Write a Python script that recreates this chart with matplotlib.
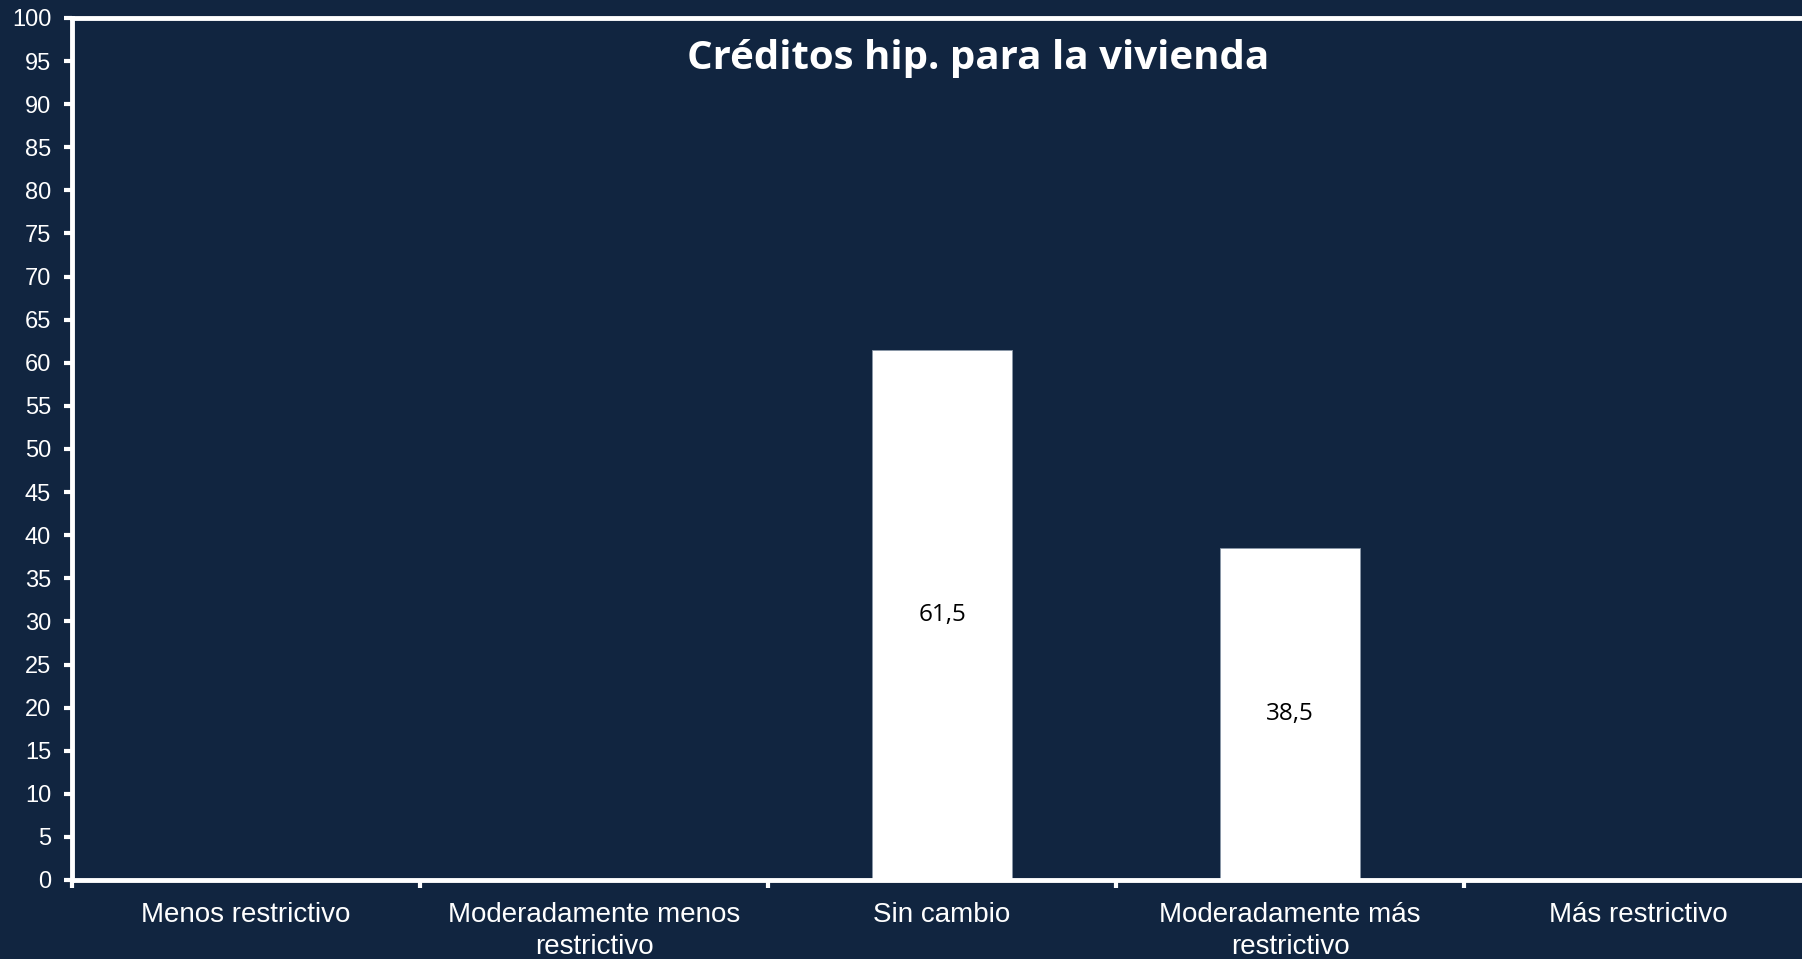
import numpy as np
import matplotlib.pyplot as plt

# categories and values (percent)
categorias = ['Menos restrictivo', 'Moderadamente menos\nrestrictivo', 'Sin cambio',
              'Moderadamente más\nrestrictivo', 'Más restrictivo']
valores = [0, 0, 61.5, 38.5, 0]
etiquetas = ['', '', '61,5', '38,5', '']
titulo = 'Créditos hip. para la vivienda'

fondo = '#112540'

fig = plt.figure(figsize=(18.02, 9.59), dpi=100, facecolor=fondo)
# axes runs a bit past the right edge, like the original
ax = fig.add_axes([72 / 1802, 1 - 880 / 959, 1740 / 1802, 862 / 959])
ax.set_facecolor(fondo)

x = np.arange(len(categorias))
bars = ax.bar(x, valores, width=0.4, color='white', edgecolor='#8a97a8', linewidth=0.6)
for b, v, t in zip(bars, valores, etiquetas):
    if t:
        ax.text(b.get_x() + b.get_width() / 2, v / 2, t, ha='center', va='center',
                fontsize=17.5, color='black', family=['Open Sans', 'DejaVu Sans'])

ax.set_xlim(-0.5, len(categorias) - 0.5)
ax.set_ylim(0, 100)
ax.set_yticks(np.arange(0, 101, 5))
ax.set_xticks(x)
ax.set_xticklabels(categorias, fontsize=20, color='white',
                   family=['Liberation Sans', 'DejaVu Sans'], linespacing=1.3)
ax.tick_params(axis='x', length=0, pad=16)
# category boundary ticks
ax.set_xticks(np.arange(-0.5, len(categorias), 1), minor=True)
ax.tick_params(axis='x', which='minor', length=6, width=3, color='white', direction='out')
ax.tick_params(axis='y', length=6, width=3, color='white', labelcolor='white',
               labelsize=17, pad=9)
for lbl in ax.get_yticklabels():
    lbl.set_family(['Liberation Sans', 'DejaVu Sans'])

for s in ['left', 'bottom', 'top']:
    ax.spines[s].set_color('white')
    ax.spines[s].set_linewidth(3.5)
ax.spines['right'].set_visible(False)

ax.text(0.521, 0.953, titulo, transform=ax.transAxes, ha='center', va='center',
        fontsize=29, fontweight='bold', color='white', family=['Open Sans', 'DejaVu Sans'])

plt.savefig('out.png', dpi=100, facecolor=fondo)
